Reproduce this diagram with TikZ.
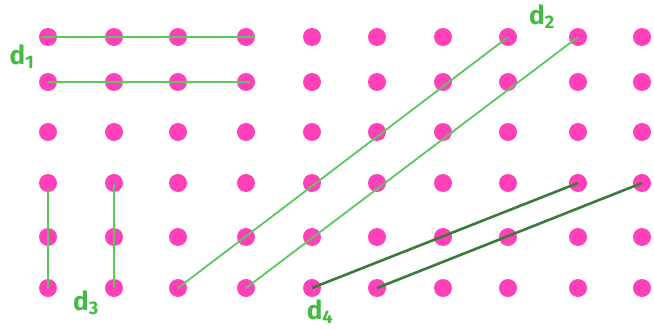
\documentclass[tikz,border=0pt]{standalone}
\usepackage{fontspec}
\setsansfont{Fira Sans}
\usepackage{tikz}
\usetikzlibrary{positioning}
\definecolor{DotPink}{HTML}{FF40B8}
\definecolor{LineGreen}{HTML}{5CC75C}
\definecolor{DarkGreen}{HTML}{3C7A3C}
\definecolor{LabelGreen}{HTML}{44BB44}

\begin{document}
\begin{tikzpicture}[
    x=1pt, y=-1pt,
    dot/.style={
      circle,
      fill=DotPink,
      inner sep=0pt,
      minimum size=18pt
    },
    seg/.style={
      LineGreen,
      line width=2.8pt
    },
    darkseg/.style={
      DarkGreen,
      line width=2.6pt
    },
    lbl/.style={
      text=LabelGreen,
      font=\sffamily\bfseries\fontsize{26}{26}\selectfont,
      inner sep=0pt
    }
  ]
  \useasboundingbox (0,0) rectangle (654,329);

  % grid of dots
  \foreach \c/\x in {1/48,2/114,3/178,4/246,5/312,6/377,7/443,8/508,9/578,10/642}
    \foreach \r/\y in {1/37,2/82,3/132,4/183,5/237,6/288}
      \node[dot] (p-\c-\r) at (\x,\y) {};

  % d1: horizontal
  \draw[seg] ([xshift=-6pt]p-1-1.center) -- ([xshift=9pt]p-4-1.center);
  \draw[seg] (p-1-2.center) -- ([xshift=4pt]p-4-2.center);

  % d2: steep diagonals
  \draw[seg, line width=1.8pt] (p-3-6.center) -- (p-8-1.center);
  \draw[seg, line width=1.8pt] (p-4-6.center) -- (p-9-1.center);

  % d3: vertical
  \draw[seg] ([yshift=-6pt]p-1-4.center) -- (p-1-6.center);
  \draw[seg] (p-2-4.center) -- (p-2-6.center);

  % d4: shallow diagonals
  \draw[darkseg] (p-5-6.center) -- (p-9-4.center);
  \draw[darkseg] (p-6-6.center) -- (p-10-4.center);

  % labels
  \node[lbl] (d1) at (22,57) {d\textsubscript{1}};
  \node[lbl] (d2) at (542,17) {d\textsubscript{2}};
  \node[lbl] (d3) at (86,303) {d\textsubscript{3}};
  \node[lbl] (d4) at (320,312) {d\textsubscript{4}};

\end{tikzpicture}
\end{document}
